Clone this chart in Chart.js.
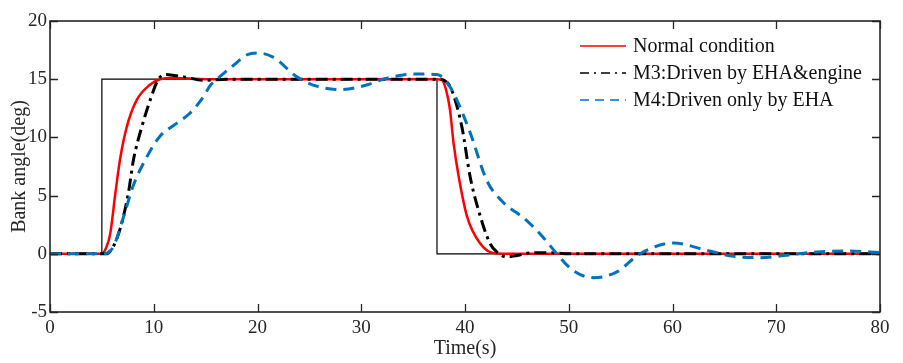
<!DOCTYPE html>
<html>
<head>
<meta charset="utf-8">
<script src="https://cdn.jsdelivr.net/npm/chart.js@4.4.1/dist/chart.umd.min.js"></script>
<style>
html,body{margin:0;padding:0;background:#fff;}
#wrap{width:903px;height:363px;}
</style>
</head>
<body>
<div id="wrap"><canvas id="c" width="903" height="363"></canvas></div>
<script>
// ---- data ----
const xTicks = [0,10,20,30,40,50,60,70,80];
const yTicks = [-5,0,5,10,15,20];

const refT = [0,5,5,37.3,37.3,80];
const refV = [0,0,15,15,0,0];

const normalT = [0,5,5.4,5.8,6.3,6.75,7.4,8.35,9.6,10.6,12,15,20,30,37.3,37.75,38.2,38.55,38.9,39.4,40.2,41.45,42.7,44,50,60,70,80];
const normalV = [0,0,0.5,1.7,5.2,8.1,10.9,13.2,14.5,15.0,15.1,15.0,15,15,15,14.95,14.0,12.4,9.5,6.6,3.2,0.9,0.07,0,0,0,0,0];

const m3T = [0,5.4,6.2,6.9,7.55,8.05,8.85,9.65,10.45,11.2,12.1,12.9,14.8,17,20,30,37.3,38.0,38.7,39.7,40.5,41.3,42.4,43.2,44.0,45.0,46,48,50,60,70,80];
const m3V = [0,0,0.8,2.6,5.2,8.1,10.9,13.2,15.0,15.4,15.3,15.2,14.9,15,15,15,15,14.9,14.1,10.9,6.6,3.75,0.9,0.05,-0.27,-0.15,0.05,0.1,0,0,0,0];

const m4T = [0,5.1,6.1,7.1,8.0,9.2,10.6,12.2,13.5,14.8,15.4,16.1,17.7,19.0,20.0,21.5,23.8,25.7,28.0,30.5,32.1,35.3,37.3,37.9,38.9,40.5,42.1,43.6,45.9,47.5,48.7,50.4,52.4,54.6,56.9,60.1,63.3,65.9,68.4,71,73.9,77.1,80];
const m4V = [0,0,0.6,3.2,5.8,8.1,10.1,11.2,12.1,13.5,14.4,15.0,16.2,17.1,17.25,16.9,15.2,14.4,14.1,14.5,15.0,15.45,15.4,15.1,13.8,10.4,6.3,4.5,2.9,1.45,0.16,-1.42,-2.05,-1.57,0.02,0.93,0.3,-0.22,-0.33,-0.13,0.16,0.24,0.1];

const labels = ['Normal condition','M3:Driven by EHA&engine','M4:Driven only by EHA'];
const xTitle = 'Time(s)';
const yTitle = 'Bank angle(deg)';
// ---------------------------------------

const pts = (t, v) => t.map((x, i) => ({x: x, y: v[i]}));
const FONT = "'Liberation Serif','Times New Roman',serif";
const AX = '#262626';

const insideTicks = {
  id: 'insideTicks',
  afterDraw(chart) {
    const {ctx, chartArea: a, scales: {x, y}} = chart;
    ctx.save();
    ctx.strokeStyle = AX;
    ctx.lineWidth = 1.3;
    ctx.beginPath();
    const L = 8;
    x.ticks.forEach(t => {
      const px = Math.round(x.getPixelForValue(t.value)) + 0.5;
      ctx.moveTo(px, a.bottom); ctx.lineTo(px, a.bottom - L);
      ctx.moveTo(px, a.top); ctx.lineTo(px, a.top + L);
    });
    y.ticks.forEach(t => {
      const py = Math.round(y.getPixelForValue(t.value)) + 0.5;
      ctx.moveTo(a.left, py); ctx.lineTo(a.left + L, py);
      ctx.moveTo(a.right, py); ctx.lineTo(a.right - L, py);
    });
    ctx.stroke();
    ctx.lineWidth = 1.6;
    ctx.strokeRect(a.left, a.top, a.right - a.left, a.bottom - a.top);
    ctx.restore();
  }
};

const customLegend = {
  id: 'customLegend',
  afterDraw(chart) {
    const {ctx} = chart;
    const ds = labels.map(l => chart.data.datasets.find(d => d.label === l));
    ctx.save();
    ctx.font = '20px ' + FONT;
    ctx.textBaseline = 'middle';
    ctx.textAlign = 'left';
    const rows = [46, 73, 100];
    ds.forEach((d, i) => {
      const yy = rows[i];
      ctx.strokeStyle = d.borderColor;
      ctx.lineWidth = 1.5;
      ctx.setLineDash(d.legendDash || []);
      ctx.beginPath();
      ctx.moveTo(580, yy); ctx.lineTo(626, yy);
      ctx.stroke();
      ctx.setLineDash([]);
      ctx.fillStyle = '#111';
      ctx.fillText(d.label, 633, yy + 1);
    });
    ctx.restore();
  }
};

new Chart(document.getElementById('c'), {
  type: 'line',
  data: {
    datasets: [
      {label: labels[2], data: pts(m4T, m4V), borderColor: '#0072BD', borderWidth: 3, borderDash: [11, 7], legendDash: [9, 6], cubicInterpolationMode: 'monotone', pointRadius: 0, order: 0},
      {label: labels[1], data: pts(m3T, m3V), borderColor: '#000000', borderWidth: 3, borderDash: [12, 5, 3, 5], legendDash: [9, 5, 2, 5], cubicInterpolationMode: 'monotone', pointRadius: 0, order: 1},
      {label: labels[0], data: pts(normalT, normalV), borderColor: '#FF0000', borderWidth: 2.5, cubicInterpolationMode: 'monotone', pointRadius: 0, order: 2},
      {label: '', data: pts(refT, refV), borderColor: '#000000', borderWidth: 1.2, tension: 0, pointRadius: 0, order: 3}
    ]
  },
  options: {
    responsive: false,
    animation: false,
    devicePixelRatio: 1,
    layout: {padding: {top: 21, right: 23, left: 0, bottom: 0}},
    plugins: {legend: {display: false}, tooltip: {enabled: false}},
    scales: {
      x: {
        type: 'linear', min: 0, max: 80,
        afterBuildTicks(s) { s.ticks = xTicks.map(v => ({value: v})); },
        ticks: {font: {family: FONT, size: 19}, color: AX, padding: 5, maxRotation: 0},
        grid: {display: false, drawTicks: false},
        border: {display: false},
        title: {display: true, text: xTitle, font: {family: FONT, size: 20}, color: AX, padding: {top: 0, bottom: 2}},
        afterFit(s) { s.height = 51; }
      },
      y: {
        type: 'linear', min: -5, max: 20,
        afterBuildTicks(s) { s.ticks = yTicks.map(v => ({value: v})); },
        ticks: {font: {family: FONT, size: 19}, color: AX, padding: 3},
        grid: {display: false, drawTicks: false},
        border: {display: false},
        title: {display: true, text: yTitle, font: {family: FONT, size: 20}, color: AX, padding: {top: 8, bottom: 0}},
        afterFit(s) { s.width = 50; }
      }
    }
  },
  plugins: [insideTicks, customLegend]
});
</script>
</body>
</html>
